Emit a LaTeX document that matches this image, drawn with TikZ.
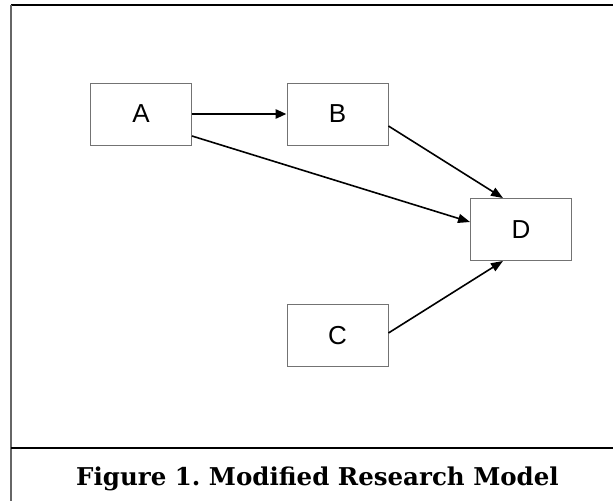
\documentclass[tikz,border=0pt]{standalone}
\usepackage{fontspec}
\setmainfont{Liberation Sans}
\newfontfamily\capfont{DejaVu Serif}
\usetikzlibrary{arrows.meta}
\begin{document}
\begin{tikzpicture}[x=1pt,y=-1pt,
  boxnode/.style={draw=black!55,line width=0.9pt,minimum width=101pt,minimum height=62pt,inner sep=0pt,font=\fontsize{26}{26}\selectfont},
  conn/.style={line width=1.6pt,-{Triangle[length=12pt,width=9pt]}},
  framerule/.style={line width=1.1pt}]
\useasboundingbox (0,0) rectangle (613,501);
\fill[white] (0,0) rectangle (613,501);
% frame
\coordinate (tl) at (11,5);
\coordinate (tr) at (613,5);
\coordinate (bl) at (11,501);
\coordinate (sl) at (11,448);
\coordinate (sr) at (613,448);
\draw[framerule,black] (tl) -- (tr);
\draw[framerule,black!60] (tl) -- (bl);
\draw[framerule,black] (sl) -- (sr);
% boxes
\node[boxnode] (A) at (141,114) {A};
\node[boxnode] (B) at (337.5,114) {B};
\node[boxnode] (C) at (337.5,335.5) {C};
\node[boxnode] (D) at (521,229.5) {D};
% connectors
\draw[conn,line width=2.6pt,-{Triangle[length=11pt,width=9pt]}] (A.east) -- (B.west);
\draw[conn] ([yshift=-22pt]A.east) -- ([yshift=7.5pt]D.west);
\draw[conn] ([yshift=-12pt]B.east) -- ([xshift=-18pt]D.north);
\draw[conn] ([yshift=2.5pt]C.east) -- ([xshift=-18pt]D.south);
% caption
\node[font=\capfont\bfseries\fontsize{24.5}{24.5}\selectfont,anchor=base] (cap) at (317.5,485) {Figure 1.\ Modified Research Model};
\end{tikzpicture}
\end{document}
